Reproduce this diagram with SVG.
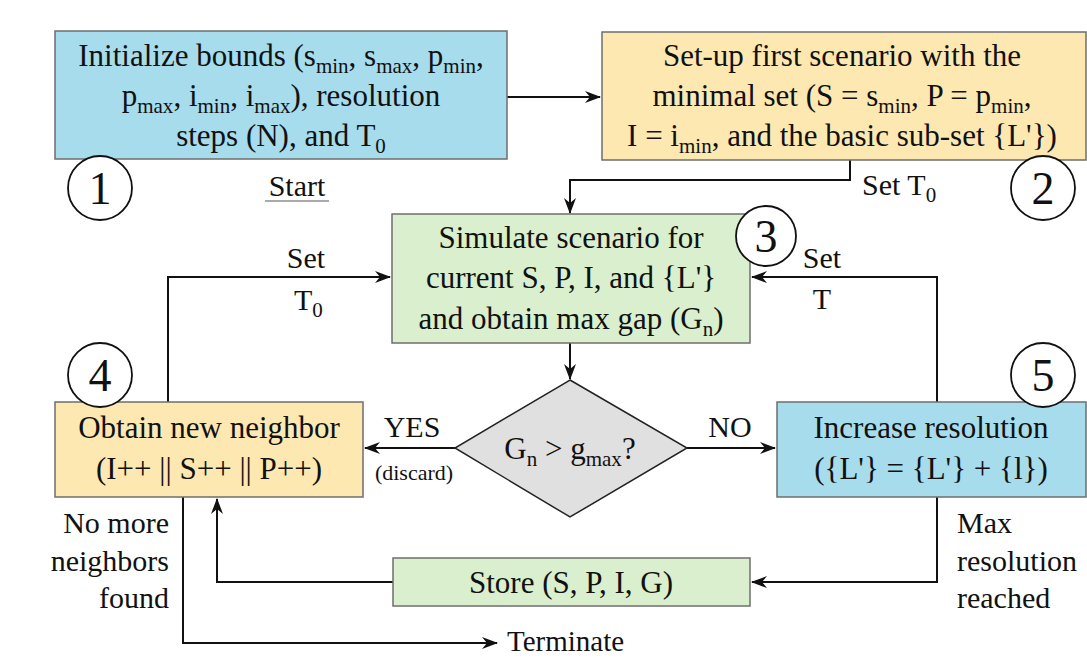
<svg xmlns="http://www.w3.org/2000/svg" width="1087" height="658" viewBox="0 0 1087 658" font-family="'Liberation Serif', 'DejaVu Serif', serif">
<defs>
<style>
text{font-family:'Liberation Serif','DejaVu Serif',serif;fill:#111;}
.t{font-size:31px;text-anchor:middle;}
.l{font-size:30px;}
.s{font-size:21px;}
.num{font-size:46px;text-anchor:middle;}
.box{stroke:#6e6e6e;stroke-width:1.5;}
.blue{fill:#a7dcec;}
.yel{fill:#fde8b2;}
.grn{fill:#d9efcd;}
.dia{fill:#e0e0e0;stroke:#222;stroke-width:1.5;}
.c{fill:#fff;stroke:#111;stroke-width:1.8;}
.ln{fill:none;stroke:#111;stroke-width:2;}
</style>
<marker id="ar" markerWidth="16" markerHeight="12" refX="15" refY="6" orient="auto" markerUnits="userSpaceOnUse">
<path d="M0,0 L16,6 L0,12 L5,6 Z" fill="#111"/>
</marker>
</defs>

<g id="connectors">
<path class="ln" d="M507,97 L600,97" marker-end="url(#ar)"/>
<path class="ln" d="M850,160 L850,180 L570,180 L570,213" marker-end="url(#ar)"/>
<path class="ln" d="M570,343 L570,379" marker-end="url(#ar)"/>
<path class="ln" d="M455,448 L365,448" marker-end="url(#ar)"/>
<path class="ln" d="M687,448 L775,448" marker-end="url(#ar)"/>
<path class="ln" d="M168,402 L168,277 L390,277" marker-end="url(#ar)"/>
<path class="ln" d="M937,402 L937,277 L752,277" marker-end="url(#ar)"/>
<path class="ln" d="M937,497 L937,582 L752,582" marker-end="url(#ar)"/>
<path class="ln" d="M393,582 L217,582 L217,499" marker-end="url(#ar)"/>
<path class="ln" d="M183,497 L183,643 L497,643" marker-end="url(#ar)"/>
<text class="l" x="862" y="195">Set T<tspan class="s" dy="7">0</tspan></text>
<text class="l" x="306" y="268" text-anchor="middle">Set</text>
<text class="l" x="294" y="310">T<tspan class="s" dy="7">0</tspan></text>
<text class="l" x="822" y="268" text-anchor="middle">Set</text>
<text class="l" x="822" y="309" text-anchor="middle">T</text>
<text class="l" x="412" y="437" text-anchor="middle">YES</text>
<text x="414" y="480" text-anchor="middle" style="font-size:22px">(discard)</text>
<text class="l" x="730" y="437" text-anchor="middle">NO</text>
<text class="l" x="169" y="533" text-anchor="end">No more</text>
<text class="l" x="169" y="571" text-anchor="end">neighbors</text>
<text class="l" x="169" y="608" text-anchor="end">found</text>
<text class="l" x="957" y="533">Max</text>
<text class="l" x="957" y="571">resolution</text>
<text class="l" x="957" y="608">reached</text>
<text class="l" x="507" y="651" style="font-size:29px">Terminate</text>
</g>

<g id="n1">
<rect class="box blue" x="55" y="31" width="452" height="128"/>
<text class="t" x="281" y="66">Initialize bounds (s<tspan class="s" dy="7">min</tspan><tspan dy="-7">, s</tspan><tspan class="s" dy="7">max</tspan><tspan dy="-7">, p</tspan><tspan class="s" dy="7">min</tspan><tspan dy="-7">,</tspan></text>
<text class="t" x="281" y="106">p<tspan class="s" dy="7">max</tspan><tspan dy="-7">, i</tspan><tspan class="s" dy="7">min</tspan><tspan dy="-7">, i</tspan><tspan class="s" dy="7">max</tspan><tspan dy="-7">), resolution</tspan></text>
<text class="t" x="281" y="146">steps (N), and T<tspan class="s" dy="7">0</tspan></text>
<circle class="c" cx="100" cy="188" r="32"/>
<text class="num" x="100" y="204">1</text>
<text class="l" x="297" y="196" text-anchor="middle">Start</text>
<line x1="265" y1="201" x2="329" y2="201" stroke="#aaa" stroke-width="2"/>
</g>

<g id="n2">
<rect class="box yel" x="602" y="32" width="484" height="128"/>
<text class="t" x="842" y="66">Set-up first scenario with the</text>
<text class="t" x="842" y="106">minimal set (S = s<tspan class="s" dy="7">min</tspan><tspan dy="-7">, P = p</tspan><tspan class="s" dy="7">min</tspan><tspan dy="-7">,</tspan></text>
<text class="t" x="842" y="146">I = i<tspan class="s" dy="7">min</tspan><tspan dy="-7">, and the basic sub-set {L'})</tspan></text>
<circle class="c" cx="1043" cy="188" r="32"/>
<text class="num" x="1043" y="204">2</text>
</g>

<g id="n3">
<rect class="box grn" x="392" y="214" width="358" height="129"/>
<text class="t" x="571" y="248">Simulate scenario for</text>
<text class="t" x="571" y="288">current S, P, I, and {L'}</text>
<text class="t" x="571" y="329">and obtain max gap (G<tspan class="s" dy="7">n</tspan><tspan dy="-7">)</tspan></text>
<circle class="c" cx="766" cy="236" r="30"/>
<text class="num" x="766" y="252">3</text>
</g>

<g id="n-diamond">
<polygon class="dia" points="570,380 687,448 570,517 455,448"/>
<text class="t" x="570" y="459">G<tspan class="s" dy="7">n</tspan><tspan dy="-7"> &gt; g</tspan><tspan class="s" dy="7">max</tspan><tspan dy="-7">?</tspan></text>
</g>

<g id="n4">
<rect class="box yel" x="55" y="402" width="308" height="95"/>
<text class="t" x="209" y="438">Obtain new neighbor</text>
<text class="t" x="209" y="479">(I++ || S++ || P++)</text>
<circle class="c" cx="100" cy="375" r="32"/>
<text class="num" x="100" y="391">4</text>
</g>

<g id="n5">
<rect class="box blue" x="777" y="402" width="309" height="95"/>
<text class="t" x="931" y="438">Increase resolution</text>
<text class="t" x="931" y="479">({L'} = {L'} + {l})</text>
<circle class="c" cx="1043" cy="375" r="32"/>
<text class="num" x="1043" y="391">5</text>
</g>

<g id="n6">
<rect class="box grn" x="393" y="558" width="357" height="48"/>
<text class="t" x="571" y="593">Store (S, P, I, G)</text>
</g>
</svg>
